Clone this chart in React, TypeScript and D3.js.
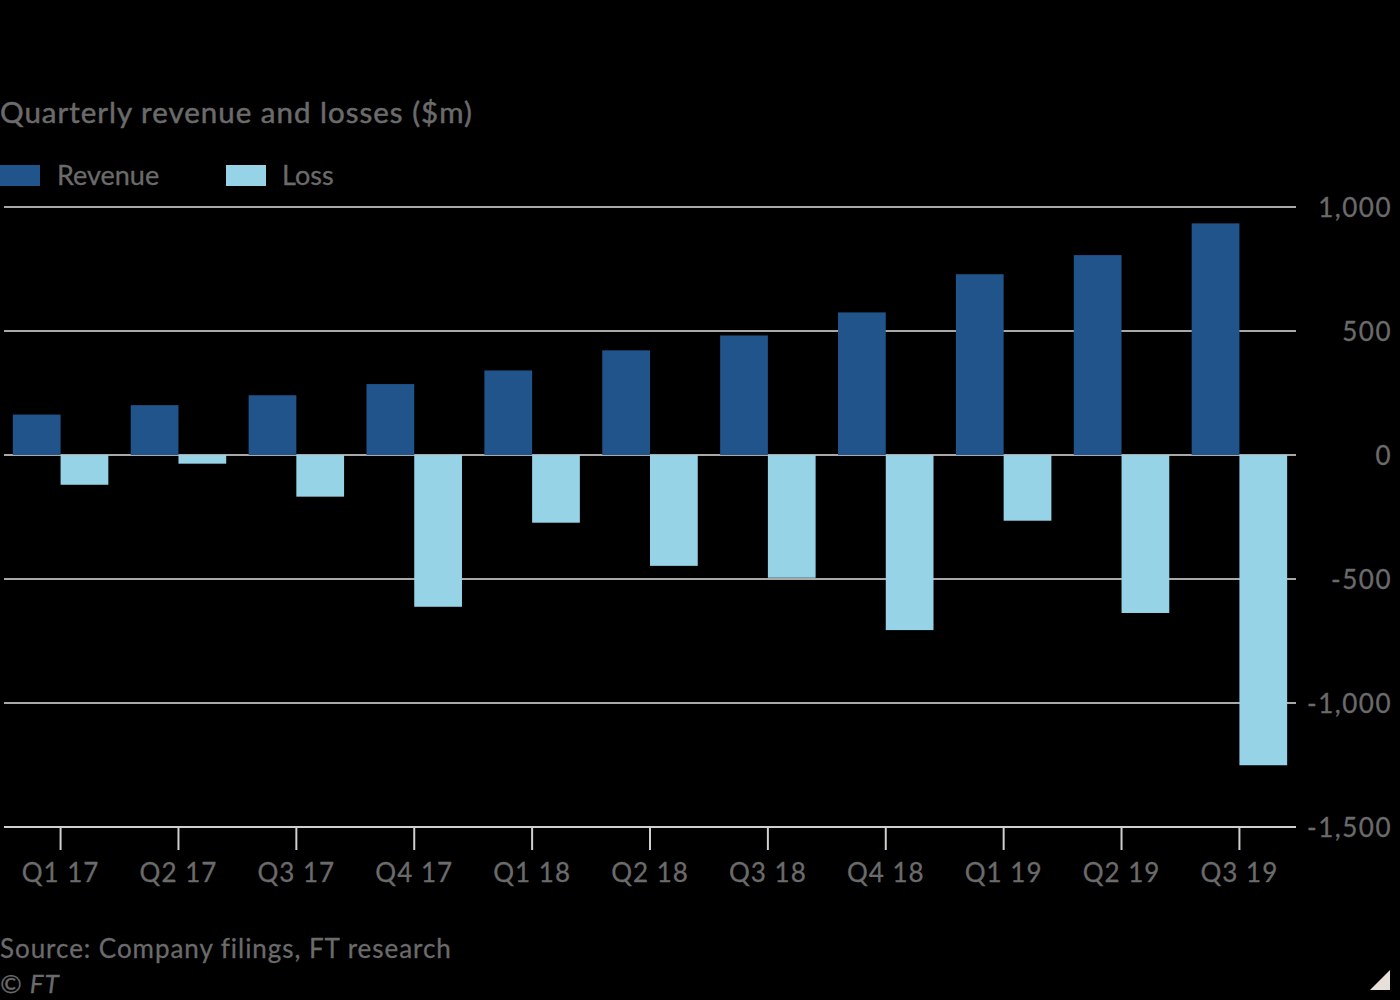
import React from 'react';
import * as d3 from 'd3';

const quarters = ['Q1 17', 'Q2 17', 'Q3 17', 'Q4 17', 'Q1 18', 'Q2 18', 'Q3 18', 'Q4 18', 'Q1 19', 'Q2 19', 'Q3 19'];
const revenue = [163, 201, 241, 286, 341, 422, 482, 575, 729, 806, 934];
const loss = [-120, -35, -168, -612, -273, -447, -495, -706, -265, -637, -1251];
const yTicks = [1000, 500, 0, -500, -1000, -1500];
const seriesKeys = ['Revenue', 'Loss'];

const width = 1400;
const height = 1000;
const plot = { left: 4, right: 1296, top: 207, bottom: 827 };

const colors: Record<string, string> = {
  Revenue: '#21548b',
  Loss: '#96d3e6',
};
const textColor = '#6b6b6b';
const font = 'Lato, "Open Sans", sans-serif';

const App: React.FC = () => {
  const x0 = d3.scaleBand<string>()
    .domain(quarters)
    .range([plot.left, plot.right])
    .paddingInner(0.19)
    .paddingOuter(0.075);

  const x1 = d3.scaleBand<string>()
    .domain(seriesKeys)
    .range([0, x0.bandwidth()]);

  const y = d3.scaleLinear()
    .domain([-1500, 1000])
    .range([plot.bottom, plot.top]);

  const fmt = d3.format(',');

  const rows = quarters.map((q, i) => ({ q, Revenue: revenue[i], Loss: loss[i] }));

  return (
    <div style={{ position: 'absolute', top: 0, left: 0 }}>
      <svg width={width} height={height} style={{ display: 'block', background: '#000' }}>
        <rect width={width} height={height} fill="#000" />

        {/* Title */}
        <text
          x={0}
          y={123}
          fill={textColor}
          stroke={textColor}
          strokeWidth={0.5}
          fontSize="29.5px"
          letterSpacing="1px"
          fontFamily={font}
        >
          Quarterly revenue and losses ($m)
        </text>

        {/* Legend */}
        <g fontFamily={font} fontSize="27px" fill={textColor}>
          <rect x={0} y={165} width={40} height={21} fill={colors.Revenue} />
          <text x={57} y={185} stroke={textColor} strokeWidth={0.3}>Revenue</text>
          <rect x={226} y={165} width={40} height={21} fill={colors.Loss} />
          <text x={282} y={185} stroke={textColor} strokeWidth={0.3}>Loss</text>
        </g>

        {/* Grid lines */}
        {yTicks.map(t => (
          <line
            key={`grid-${t}`}
            x1={plot.left}
            x2={plot.right}
            y1={y(t)}
            y2={y(t)}
            stroke={t === -1500 ? '#cfcfcf' : '#e2e2e2'}
            strokeWidth={t === -1500 ? 2 : 1.5}
          />
        ))}

        {/* Y tick labels */}
        {yTicks.map(t => (
          <text
            key={`ylab-${t}`}
            x={1392}
            y={y(t)}
            dy="0.38em"
            textAnchor="end"
            fill={textColor}
            stroke={textColor}
            strokeWidth={0.3}
            fontSize="26px"
            letterSpacing="1.5px"
            fontFamily={font}
          >
            {t < 0 ? '-' + fmt(-t) : fmt(t)}
          </text>
        ))}

        {/* Bars */}
        {rows.map(r => (
          <g key={r.q} transform={`translate(${x0(r.q)},0)`}>
            {seriesKeys.map(k => {
              const v = (r as any)[k] as number;
              return (
                <rect
                  key={k}
                  x={x1(k)}
                  y={y(Math.max(0, v))}
                  width={x1.bandwidth()}
                  height={Math.abs(y(v) - y(0))}
                  fill={colors[k]}
                />
              );
            })}
          </g>
        ))}

        {/* X axis ticks and labels */}
        {quarters.map(q => {
          const cx = (x0(q) || 0) + x0.bandwidth() / 2;
          return (
            <g key={`xt-${q}`} transform={`translate(${cx},${plot.bottom})`}>
              <line y1={0} y2={23} stroke="#cfcfcf" strokeWidth={2} />
              <text
                y={55}
                textAnchor="middle"
                fill={textColor}
                stroke={textColor}
                strokeWidth={0.3}
                fontSize="26px"
                letterSpacing="1px"
                fontFamily={font}
              >
                {q}
              </text>
            </g>
          );
        })}

        {/* Source */}
        <text
          x={0}
          y={958}
          fill={textColor}
          stroke={textColor}
          strokeWidth={0.3}
          fontSize="26px"
          letterSpacing="0.95px"
          fontFamily={font}
        >
          Source: Company filings, FT research
        </text>
        <text
          x={0}
          y={993}
          fill={textColor}
          stroke={textColor}
          strokeWidth={0.3}
          fontSize="26px"
          fontStyle="italic"
          letterSpacing="1px"
          fontFamily={font}
        >
          © FT
        </text>

        {/* Corner mark */}
        <path d="M1370,990 L1390,990 L1390,970 Z" fill="#e8e0d8" />
      </svg>
    </div>
  );
};

export default App;
